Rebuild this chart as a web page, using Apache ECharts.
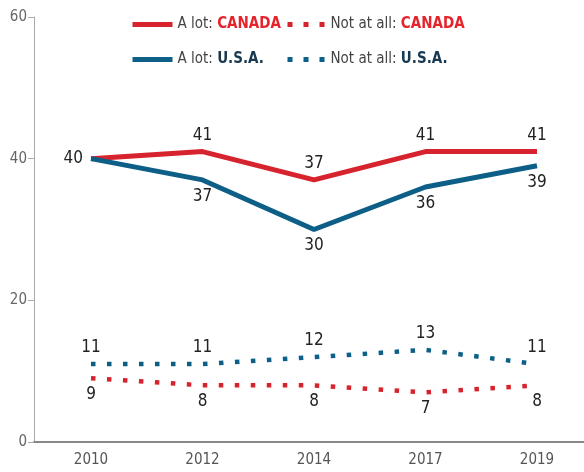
<!DOCTYPE html>
<html>
<head>
<meta charset="utf-8">
<script src="https://cdn.jsdelivr.net/npm/echarts@6/dist/echarts.min.js"></script>
<style>
  html, body { margin: 0; padding: 0; background: #fff; }
  #main { width: 584px; height: 472px; }
</style>
</head>
<body>
<div id="main"></div>
<script>
var years = ['2010', '2012', '2014', '2017', '2019'];
var canadaLot = [40, 41, 37, 41, 41];
var usaLot = [40, 37, 30, 36, 39];
var canadaNot = [9, 8, 8, 7, 8];
var usaNot = [11, 11, 12, 13, 11];

var RED = '#d6232d';
var BLUE = '#0e5f87';
var FONT = "'Liberation Sans Narrow', 'DejaVu Sans Condensed', sans-serif";

var myChart = echarts.init(document.getElementById('main'));

var labelBase = { show: true, fontFamily: FONT, fontSize: 17, color: '#222', distance: 8 };

function richLegend(name) {
  var parts = name.split(': ');
  var key = parts[1] === 'CANADA' ? 'c' : 'u';
  return '{a|' + parts[0] + ': }{' + key + '|' + parts[1] + '}';
}
var legendRich = {
  a: { fontFamily: FONT, fontSize: 15, color: '#444' },
  c: { fontFamily: FONT, fontSize: 15, color: '#e4232b', fontWeight: 'bold' },
  u: { fontFamily: FONT, fontSize: 15, color: '#17384f', fontWeight: 'bold' }
};

// first Canada point gets its label on the left
var canadaLotData = canadaLot.map(function (v, i) {
  return i === 0 ? { value: v, label: { position: 'left' } } : v;
});

var option = {
  animation: false,
  // grid 0 holds the data, grid 1 only draws the long bottom axis line
  grid: [
    { left: 91, right: 47, top: 17, bottom: 30 },
    { left: 34, right: 0, top: 17, bottom: 30 }
  ],
  legend: [
    {
      orient: 'vertical', left: 125, top: 12, itemGap: 20,
      itemWidth: 40, itemHeight: 18,
      data: ['A lot: CANADA', 'A lot: U.S.A.'],
      itemStyle: { opacity: 0 },
      lineStyle: { width: 5 },
      formatter: richLegend,
      textStyle: { rich: legendRich }
    },
    {
      orient: 'vertical', left: 280, top: 12, itemGap: 20,
      itemWidth: 38, itemHeight: 18,
      data: ['Not at all: CANADA', 'Not at all: U.S.A.'],
      itemStyle: { opacity: 0 },
      lineStyle: { width: 5, type: [5, 11] },
      formatter: richLegend,
      textStyle: { rich: legendRich }
    }
  ],
  xAxis: [
    {
      type: 'category', gridIndex: 0,
      data: years,
      boundaryGap: false,
      axisLine: { show: false },
      axisTick: { show: false },
      axisLabel: { fontFamily: FONT, fontSize: 15, color: '#555', margin: 11 }
    },
    {
      type: 'value', gridIndex: 1, min: 0, max: 1,
      axisLine: { lineStyle: { color: '#888', width: 2 } },
      axisTick: { show: false },
      axisLabel: { show: false },
      splitLine: { show: false }
    }
  ],
  yAxis: [
    {
      type: 'value', gridIndex: 0,
      min: 0, max: 60, interval: 20,
      offset: 57,
      axisLine: { show: true, lineStyle: { color: '#aaa', width: 1 } },
      axisTick: { show: true, length: 6, lineStyle: { color: '#aaa' } },
      splitLine: { show: false },
      axisLabel: { fontFamily: FONT, fontSize: 15, color: '#666', margin: 7 }
    },
    {
      type: 'value', gridIndex: 1, min: 0, max: 1,
      show: false
    }
  ],
  series: [
    {
      name: 'A lot: CANADA', type: 'line', data: canadaLotData,
      symbol: 'circle', symbolSize: 0, z: 3,
      lineStyle: { color: RED, width: 5 },
      itemStyle: { color: RED },
      label: Object.assign({}, labelBase, { position: 'top' })
    },
    {
      name: 'A lot: U.S.A.', type: 'line', data: usaLot,
      symbol: 'circle', symbolSize: 0, z: 4,
      lineStyle: { color: BLUE, width: 5 },
      itemStyle: { color: BLUE },
      label: Object.assign({}, labelBase, {
        position: 'bottom',
        formatter: function (p) { return p.dataIndex === 0 ? '' : p.value; }
      })
    },
    {
      name: 'Not at all: CANADA', type: 'line', data: canadaNot,
      symbol: 'circle', symbolSize: 0,
      lineStyle: { color: RED, width: 4.5, type: [4.5, 11.5] },
      itemStyle: { color: RED },
      label: Object.assign({}, labelBase, { position: 'bottom' })
    },
    {
      name: 'Not at all: U.S.A.', type: 'line', data: usaNot,
      symbol: 'circle', symbolSize: 0,
      lineStyle: { color: BLUE, width: 4.5, type: [4.5, 11.5] },
      itemStyle: { color: BLUE },
      label: Object.assign({}, labelBase, { position: 'top' })
    }
  ]
};

myChart.setOption(option);
</script>
</body>
</html>
